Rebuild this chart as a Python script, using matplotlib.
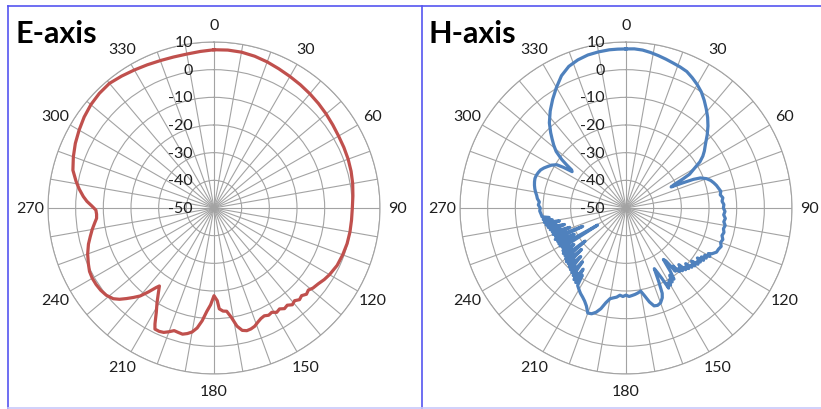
import numpy as np
import matplotlib
matplotlib.use("Agg")
import matplotlib.pyplot as plt
from matplotlib.lines import Line2D
from matplotlib.transforms import offset_copy

plt.rcParams['font.family'] = ['Lato', 'DejaVu Sans']

# E-axis pattern (degrees, dB)
e_deg = [0, 5, 10, 15, 20, 25, 30, 35, 40, 45,
         50, 55, 60, 65, 70, 75, 80, 85, 90, 95,
         100, 105, 110, 115, 120, 123, 126, 129, 131, 133,
         135, 137, 139, 141, 143, 145, 147, 149, 151, 153,
         155, 157, 159, 161, 163, 165, 167, 169, 171, 173,
         175, 177, 178, 180, 182, 184, 186, 188, 190, 192,
         194, 196, 198, 200, 202, 204, 206, 207, 209, 211,
         213, 215, 216, 218, 220, 222, 224, 226, 228, 231,
         234, 237, 240, 243, 246, 250, 254, 257, 260, 263,
         265, 267, 269, 271, 273, 275, 278, 281, 285, 290,
         295, 300, 305, 310, 315, 320, 325, 330, 335, 340,
         345, 350, 355, 360]
e_db = [7.2, 7.3, 7.2, 6.8, 6.2, 5.5, 4.9, 4.4, 3.9, 3.4,
        2.9, 2.4, 2.0, 1.8, 1.6, 1.3, 0.9, 0.4, 0.0, -0.1,
        -0.1, -0.2, -0.5, -0.9, -1.8, -2.5, -3.4, -4.0, -4.8, -4.3,
        -5.2, -4.7, -5.6, -5.0, -6.0, -5.6, -6.5, -6.0, -6.9, -6.5,
        -7.0, -6.6, -5.8, -4.8, -4.3, -4.1, -4.6, -6.5, -10.0, -12.4,
        -12.6, -13.5, -16.5, -18.3, -15.0, -12.5, -9.0, -6.2, -4.5, -3.6,
        -3.0, -3.2, -3.4, -2.4, -1.5, -1.2, -1.3, -3.0, -7.0, -10.0,
        -13.0, -15.6, -14.5, -11.5, -8.5, -6.5, -4.5, -2.5, -1.0, 0.1,
        0.6, 0.8, 0.8, 0.5, -0.3, -1.4, -2.8, -4.1, -5.3, -6.6,
        -7.4, -7.5, -7.3, -5.8, -4.0, -2.6, -0.8, 0.8, 2.8, 4.1,
        5.3, 6.3, 7.3, 8.1, 8.6, 8.8, 8.2, 7.6, 7.1, 6.7,
        6.5, 6.5, 6.8, 7.2]

# H-axis pattern (degrees, dB)
h_deg = [0, 3, 6, 9, 12, 15, 18, 21, 24, 27,
         30, 33, 36, 39, 42, 45, 48, 51, 54, 56,
         58, 60, 62, 63, 64, 65, 66, 67, 68, 70,
         72, 74, 76, 78, 80, 82, 84, 86, 88, 90,
         92, 94, 96, 98, 100, 102, 104, 106, 108, 110,
         112, 114, 116, 118, 119, 120, 121, 122, 123, 124,
         125, 126, 127, 128, 129, 130, 131, 132, 133, 134,
         135, 136, 137, 138, 139, 140, 141, 142, 143, 144,
         145, 146, 147, 148, 149, 150, 151, 152, 153, 154,
         155, 156, 157, 158, 160, 162, 164, 166, 168, 170,
         172, 174, 176, 178, 180, 182, 184, 186, 188, 190,
         192, 194, 196, 198, 200, 202, 204, 206, 208, 210,
         212, 213, 214, 215, 216, 217, 218, 219, 220, 221,
         222, 223, 224, 225, 226, 227, 228, 229, 230, 231,
         232, 233, 234, 235, 236, 237, 238, 239, 240, 241,
         242, 243, 244, 245, 246, 247, 248, 249, 250, 251,
         252, 253, 254, 255, 256, 257, 258, 259, 260, 261,
         262, 263, 264, 266, 268, 270, 272, 274, 276, 278,
         280, 282, 284, 286, 288, 290, 292, 294, 296, 298,
         300, 302, 303, 304, 305, 306, 307, 309, 311, 313,
         315, 318, 322, 326, 330, 334, 338, 342, 346, 350,
         354, 357, 360]
h_db = [7.5, 7.6, 7.4, 6.9, 6.3, 5.7, 5.1, 4.6, 4.0, 2.8,
        1.5, 0.0, -1.9, -3.9, -5.9, -8.1, -10.5, -13.0, -15.0, -16.5,
        -18.5, -21.5, -24.0, -27.0, -30.5, -32.0, -28.0, -23.5, -21.0, -19.0,
        -17.8, -17.0, -16.3, -15.8, -15.2, -15.6, -14.8, -15.2, -14.6, -14.8,
        -14.2, -14.6, -13.9, -14.3, -13.6, -14.0, -13.5, -13.9, -13.2, -13.6,
        -12.9, -13.4, -13.6, -14.8, -16.0, -15.0, -16.8, -15.8, -17.5, -16.2,
        -18.5, -16.8, -17.8, -17.0, -19.5, -17.5, -18.6, -18.0, -20.5, -18.5,
        -19.8, -19.0, -22.0, -19.5, -21.0, -20.0, -23.0, -21.0, -26.0, -27.0,
        -22.0, -19.0, -21.0, -18.5, -19.6, -17.8, -19.0, -17.2, -21.5, -24.0,
        -25.8, -21.0, -16.5, -15.0, -13.5, -13.0, -13.2, -15.0, -17.5, -19.5,
        -19.0, -18.6, -18.3, -18.0, -18.5, -18.0, -18.4, -17.6, -17.2, -16.7,
        -15.0, -12.5, -10.8, -9.8, -9.6, -11.8, -13.2, -14.2, -15.0, -16.0,
        -17.0, -21.0, -17.5, -23.0, -18.0, -20.5, -19.0, -25.0, -19.5, -22.0,
        -20.0, -26.0, -20.5, -23.5, -21.0, -28.0, -21.0, -24.5, -21.5, -31.0,
        -22.0, -25.5, -22.0, -27.0, -22.5, -25.0, -23.0, -38.0, -22.5, -27.0,
        -22.5, -29.0, -22.5, -26.0, -22.0, -33.0, -22.5, -26.5, -22.0, -28.5,
        -22.0, -25.0, -21.5, -27.0, -21.0, -24.0, -20.5, -25.5, -20.0, -23.0,
        -19.8, -22.0, -19.5, -19.2, -18.8, -19.0, -18.3, -18.6, -17.8, -17.4,
        -16.8, -16.3, -15.9, -15.6, -15.4, -15.5, -15.8, -16.2, -17.0, -18.0,
        -19.0, -20.5, -23.0, -26.5, -26.0, -23.5, -21.0, -17.5, -15.4, -13.5,
        -11.5, -8.6, -5.5, -2.6, 0.3, 3.2, 5.2, 6.3, 7.0, 7.3,
        7.5, 7.5, 7.5]

r_ticks = [-50, -40, -30, -20, -10, 0, 10]
theta_ticks = list(range(0, 360, 10))

W, H = 821, 410
fig = plt.figure(figsize=(W / 100, H / 100), dpi=100)

grid_col = '#a3a3a3'
txt_col = '#1e1e1e'


def polar_panel(cx, title, title_x, deg, db, color):
    R = 166
    ax = fig.add_axes([(cx - R) / W, (H - 209 - R) / H, 2 * R / W, 2 * R / H],
                      projection='polar')
    ax.set_theta_zero_location('N')
    ax.set_theta_direction(-1)
    ax.set_ylim(-50, 10)
    labels = [str(t) if t % 30 == 0 else '' for t in theta_ticks]
    ax.set_thetagrids(theta_ticks, labels, fontsize=11.5, color=txt_col)
    ax.set_rgrids(r_ticks[1:], labels=[''] * 6)
    ax.tick_params(axis='x', pad=2)
    ax.grid(True, color=grid_col, linewidth=0.8)
    ax.spines['polar'].set_color(grid_col)
    ax.spines['polar'].set_linewidth(0.8)
    ax.set_facecolor('white')

    tr = offset_copy(ax.transData, fig=fig, x=-21, y=0, units='dots')
    for r in r_ticks:
        ax.text(0, r, str(r), transform=tr, ha='right', va='center',
                fontsize=11.5, color=txt_col)

    ax.plot(np.deg2rad(deg), db, color=color, linewidth=2.3, zorder=3)
    fig.text(title_x / W, 1 - 43 / H, title, fontsize=22, fontweight='bold',
             ha='left', va='baseline', color='black')
    return ax


polar_panel(214, 'E-axis', 16, e_deg, e_db, '#C0504D')
polar_panel(626, 'H-axis', 428, h_deg, h_db, '#4F81BD')

# panel borders
border = '#5555f0'
for xs, ys, c in [([8, 821], [7, 7], border),
                  ([8, 8], [7, 410], border),
                  ([421.5, 421.5], [7, 410], border),
                  ([8, 821], [409, 409], '#c8c8fa')]:
    fig.add_artist(Line2D([x / W for x in xs], [1 - y / H for y in ys],
                          transform=fig.transFigure, color=c, linewidth=1.2))

fig.savefig('out.png', dpi=100)
